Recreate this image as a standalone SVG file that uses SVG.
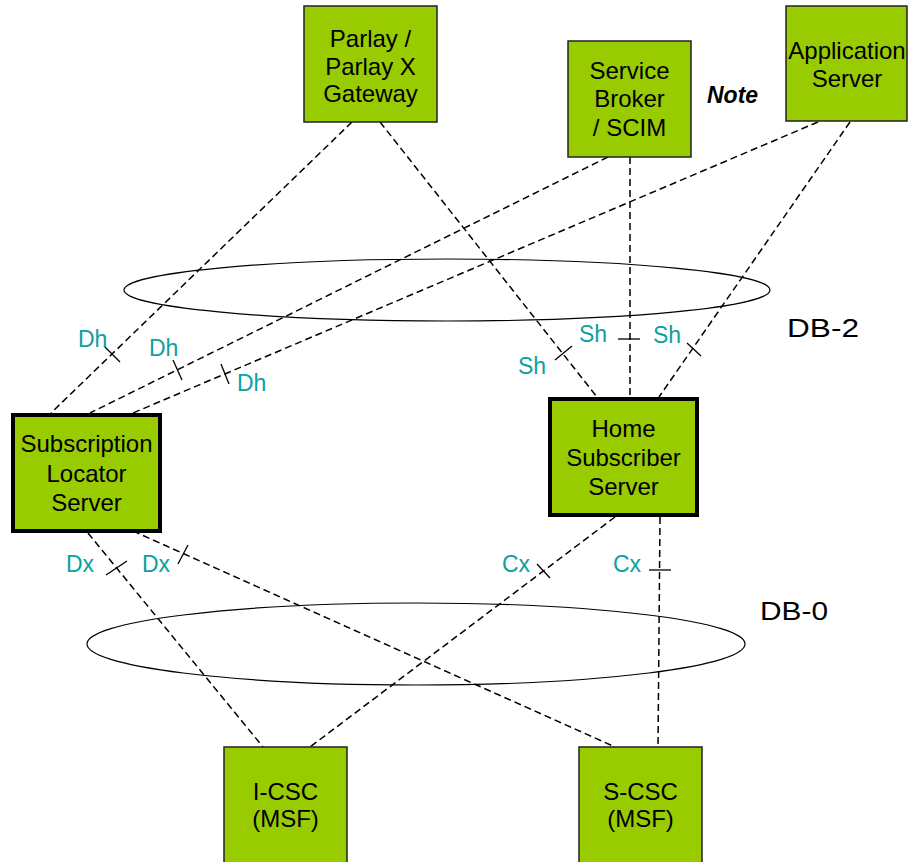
<svg xmlns="http://www.w3.org/2000/svg" width="909" height="862" viewBox="0 0 909 862">
<style>
.box{fill:#99cc00;stroke:#222;stroke-width:1.5}
.thick{fill:#99cc00;stroke:#000;stroke-width:4}
.t{font-family:"Liberation Sans",Arial,sans-serif;font-size:24px;fill:#000;text-anchor:middle}
.lbl{font-family:"Liberation Sans",Arial,sans-serif;font-size:23px;fill:#0e9f9f}
.db{font-family:"Liberation Sans",Arial,sans-serif;font-size:25px;fill:#000}
.dash{stroke:#000;stroke-width:1.5;stroke-dasharray:7 4;fill:none}
.tick{stroke:#000;stroke-width:1.3}
.ell{fill:none;stroke:#000;stroke-width:1.2}
</style>
<rect width="909" height="862" fill="#fff"/>
<g id="ellipses">
<ellipse class="ell" cx="447" cy="290" rx="323" ry="31"/>
<ellipse class="ell" cx="416" cy="644" rx="329" ry="41"/>
</g>
<g id="connectors">
<line class="dash" x1="352" y1="122" x2="51" y2="413"/>
<line class="dash" x1="380" y1="122" x2="597" y2="397"/>
<line class="dash" x1="630" y1="157" x2="630" y2="397"/>
<line class="dash" x1="608" y1="157" x2="90" y2="413"/>
<line class="dash" x1="818" y1="122" x2="133" y2="413"/>
<line class="dash" x1="850" y1="122" x2="659" y2="397"/>
<line class="dash" x1="88" y1="533" x2="263" y2="747"/>
<line class="dash" x1="133" y1="531" x2="615" y2="747"/>
<line class="dash" x1="615" y1="517" x2="310" y2="747"/>
<line class="dash" x1="660" y1="517" x2="658" y2="747"/>
<line class="tick" x1="104" y1="346" x2="120" y2="362"/>
<line class="tick" x1="173" y1="360" x2="182" y2="380"/>
<line class="tick" x1="221" y1="364" x2="229" y2="384"/>
<line class="tick" x1="555" y1="360" x2="572" y2="346"/>
<line class="tick" x1="618" y1="339" x2="640" y2="339"/>
<line class="tick" x1="687" y1="343" x2="701" y2="356"/>
<line class="tick" x1="106" y1="575" x2="127" y2="561"/>
<line class="tick" x1="178" y1="564" x2="188" y2="545"/>
<line class="tick" x1="537" y1="564" x2="550" y2="578"/>
<line class="tick" x1="649" y1="570" x2="671" y2="570"/>
</g>
<g id="labels">
<text class="lbl" x="78" y="347">Dh</text>
<text class="lbl" x="149" y="356">Dh</text>
<text class="lbl" x="237" y="391">Dh</text>
<text class="lbl" x="518" y="374">Sh</text>
<text class="lbl" x="579" y="342">Sh</text>
<text class="lbl" x="653" y="343">Sh</text>
<text class="lbl" x="66" y="572">Dx</text>
<text class="lbl" x="142" y="572">Dx</text>
<text class="lbl" x="502" y="572">Cx</text>
<text class="lbl" x="613" y="572">Cx</text>
<text class="db" x="787" y="337" textLength="72" lengthAdjust="spacingAndGlyphs">DB-2</text>
<text class="db" x="760" y="620" textLength="68" lengthAdjust="spacingAndGlyphs">DB-0</text>
<text x="707" y="103" style="font-family:'Liberation Sans',Arial,sans-serif;font-size:23px;font-weight:bold;font-style:italic">Note</text>
</g>
<g id="parlay">
<rect class="box" x="304" y="6" width="133" height="116"/>
<text class="t" x="370.5" y="47">Parlay /</text>
<text class="t" x="370.5" y="75">Parlay X</text>
<text class="t" x="370.5" y="102">Gateway</text>
</g>
<g id="service-broker">
<rect class="box" x="568" y="41" width="123" height="116"/>
<text class="t" x="629.5" y="79">Service</text>
<text class="t" x="629.5" y="107">Broker</text>
<text class="t" x="629.5" y="136">/ SCIM</text>
</g>
<g id="application-server">
<rect class="box" x="786" y="6" width="121" height="115"/>
<text class="t" x="847" y="59">Application</text>
<text class="t" x="847" y="87">Server</text>
</g>
<g id="slf">
<rect class="thick" x="13" y="415" width="147" height="116"/>
<text class="t" x="86.5" y="452">Subscription</text>
<text class="t" x="86.5" y="482">Locator</text>
<text class="t" x="86.5" y="511">Server</text>
</g>
<g id="hss">
<rect class="thick" x="550" y="399" width="147" height="116"/>
<text class="t" x="623.5" y="437">Home</text>
<text class="t" x="623.5" y="466">Subscriber</text>
<text class="t" x="623.5" y="495">Server</text>
</g>
<g id="i-csc">
<rect class="box" x="224" y="747" width="123" height="125"/>
<text class="t" x="285.5" y="800">I-CSC</text>
<text class="t" x="285.5" y="827">(MSF)</text>
</g>
<g id="s-csc">
<rect class="box" x="579" y="747" width="123" height="125"/>
<text class="t" x="640.5" y="800">S-CSC</text>
<text class="t" x="640.5" y="827">(MSF)</text>
</g>
</svg>
